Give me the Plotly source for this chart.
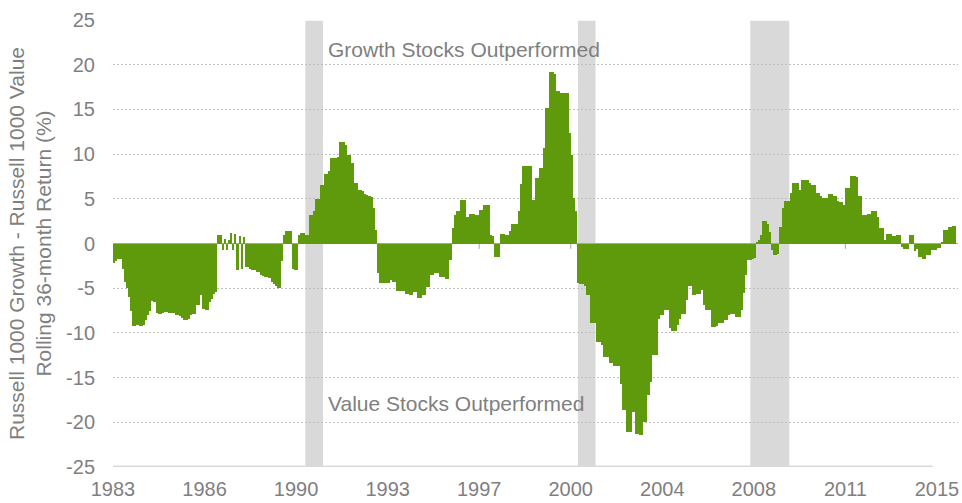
import plotly.graph_objects as go

# ---------------- data ----------------
start_month = "1983-01"

# Russell 1000 Growth - Russell 1000 Value, rolling 36-month return (%), monthly from Jan 1983
diff_1983_1986 = [
    -2.2, -2.0, -1.7, -1.7, -2.9, -4.3, -5.0, -6.0, -7.6, -9.2, -9.2, -9.1,
    -9.2, -9.2, -9.1, -8.6, -8.0, -7.6, -6.4, -6.5, -7.8, -7.9, -7.9, -7.8,
    -7.7, -7.7, -7.8, -7.8, -7.8, -8.0, -8.0, -8.1, -8.3, -8.6, -8.6, -8.4,
    -8.0, -7.9, -7.9, -6.9, -6.9, -5.8, -7.3, -7.4, -7.4, -6.5, -6.2, -5.6,
]
diff_1987_1990 = [
    -5.4, 1.0, 0.9, -0.7, 0.5, -0.7, 0.4, 1.2, -0.7, 1.1, -3.0, 0.8,
    -2.9, 0.7, -2.6, -2.6, -2.9, -3.0, -3.0, -3.2, -3.2, -3.5, -3.6, -3.7,
    -3.8, -3.9, -4.3, -4.5, -4.7, -5.0, -5.0, -2.0, 0.9, 1.4, 1.45, 1.4,
    -2.9, -3.0, -3.0, 1.0, 1.2, 1.2, 1.0, 1.0, 3.2, 3.2, 3.6, 5.0,
]
diff_1991_1994 = [
    5.0, 6.6, 6.6, 7.8, 7.8, 8.1, 9.6, 9.6, 9.6, 9.7, 11.4, 11.4,
    11.3, 11.0, 9.9, 9.9, 9.0, 6.8, 6.8, 6.0, 6.0, 5.9, 5.5, 5.4,
    5.3, 5.2, 4.0, 1.5, -3.3, -4.4, -4.4, -4.4, -4.4, -4.4, -4.1, -4.3,
    -4.3, -5.3, -5.3, -5.3, -5.3, -5.6, -5.6, -5.8, -5.8, -5.4, -5.4, -6.1,
]
diff_1995_1998 = [
    -6.1, -5.8, -5.8, -4.9, -4.9, -3.5, -3.5, -3.3, -3.3, -3.8, -3.8, -3.8,
    -4.0, -4.0, -1.8, 1.7, 3.2, 3.6, 3.6, 4.9, 4.9, 4.9, 3.0, 3.3,
    3.3, 3.3, 3.2, 3.2, 3.8, 3.8, 4.3, 4.3, 4.3, 0.9, 0.8, -1.5,
    -1.5, -1.5, 1.1, 1.1, 1.0, 1.0, 1.4, 2.2, 2.2, 2.2, 3.6, 6.7,
]
diff_1999_2002 = [
    8.7, 8.7, 8.7, 8.7, 8.7, 4.9, 7.3, 7.3, 8.4, 8.4, 10.7, 15.2,
    15.2, 19.2, 19.2, 19.0, 17.1, 17.1, 16.8, 16.8, 16.8, 16.8, 12.4, 9.9,
    5.1, 3.6, -4.4, -4.5, -4.5, -4.8, -5.8, -5.8, -8.9, -8.9, -8.9, -11.0,
    -11.0, -11.4, -12.7, -12.7, -12.7, -13.35, -13.35, -13.7, -13.7, -13.7, -15.7, -18.65,
]
diff_2003_2006 = [
    -18.65, -21.1, -21.1, -21.1, -18.8, -21.3, -21.3, -21.4, -21.4, -20.0, -20.0, -17.0,
    -15.5, -12.5, -12.5, -12.5, -8.4, -8.0, -8.0, -7.4, -7.4, -9.5, -9.75, -9.75,
    -9.75, -9.1, -8.4, -7.9, -7.9, -6.3, -4.8, -4.8, -5.8, -5.8, -5.6, -5.6,
    -5.2, -6.9, -7.4, -7.4, -7.4, -9.3, -9.3, -9.2, -8.9, -8.9, -8.9, -8.6,
]
diff_2007_2010 = [
    -8.6, -8.0, -7.9, -7.9, -8.2, -8.2, -8.2, -7.4, -5.5, -3.5, -1.8, -1.8,
    -1.7, -1.6, 0.2, 0.4, 1.0, 2.5, 2.5, 2.2, 1.3, -0.7, -1.3, -1.3,
    -1.2, 1.9, 4.0, 4.7, 4.7, 4.7, 5.6, 6.8, 6.8, 6.8, 6.0, 7.05,
    7.05, 7.05, 7.05, 6.75, 6.5, 6.5, 5.7, 5.7, 5.3, 5.1, 5.1, 5.1,
]
diff_2011_2015 = [
    5.55, 5.55, 5.3, 5.3, 4.7, 4.6, 4.6, 4.3, 6.2, 6.2, 7.5, 7.5,
    7.5, 7.45, 5.3, 5.3, 3.2, 3.2, 3.3, 3.3, 3.6, 3.6, 3.6, 3.0,
    1.7, 1.7, 0.4, 1.1, 1.1, 1.1, 0.85, 0.85, 1.0, 1.0, -0.4, -0.65,
    -0.65, -0.65, 0.95, 0.95, -0.8, -0.65, -1.5, -1.5, -1.7, -1.7, -1.3, -1.3,
    -0.7, -0.7, -0.7, -0.5, -0.5, 0.2, 1.5, 1.5, 1.9, 1.9, 2.0, 2.0,
]

# NBER recessions (start month, end month)
recession_starts = ["1990-07", "2001-03", "2007-12"]
recession_ends = ["1991-03", "2001-11", "2009-06"]

# x-axis labels (every 43 months)
tick_dates = ["1983-01", "1986-08", "1990-03", "1993-10", "1997-05",
              "2000-12", "2004-07", "2008-02", "2011-09", "2015-04"]
tick_labels = ["1983", "1986", "1990", "1993", "1997",
               "2000", "2004", "2008", "2011", "2015"]

recession_base_end = "2015-01"

y_ticks = [-25, -20, -15, -10, -5, 0, 5, 10, 15, 20, 25]
y_tick_labels = ["-25", "-20", "-15", "-10", "-5", "0", "5", "10", "15", "20", "25"]

annotation_top = "Growth Stocks Outperformed"
annotation_bottom = "Value Stocks Outperformed"
y_title = "Russell 1000 Growth - Russell 1000 Value<br>Rolling 36-month Return (%)"

# ---------------- build ----------------
values = (diff_1983_1986 + diff_1987_1990 + diff_1991_1994 + diff_1995_1998
          + diff_1999_2002 + diff_2003_2006 + diff_2007_2010 + diff_2011_2015)


def month_index(s):
    y0, m0 = map(int, start_month.split("-"))
    y, m = map(int, s.split("-"))
    return (y - y0) * 12 + (m - m0)


x = list(range(len(values)))
tickvals = [month_index(d) - 0.5 for d in tick_dates]

GREEN = "#5E9A0C"
BAND = "#D9D9D9"
TEXT = "#7F7F7F"
GRID = "#BFBFBF"
AXIS = "#A6A6A6"
FONT = "Liberation Sans, Arial, sans-serif"

fig = go.Figure()
fig.add_trace(go.Bar(
    x=x, y=values, width=1.0,
    marker=dict(color=GREEN, line=dict(width=0)),
    hoverinfo="skip",
))

shapes = []
# thin gray base band at the bottom
shapes.append(dict(type="line", xref="x", yref="y",
                   x0=-0.5, x1=month_index(recession_base_end) + 0.5,
                   y0=-25, y1=-25,
                   line=dict(color=BAND, width=3), layer="between"))
# recession bands
for s, e in zip(recession_starts, recession_ends):
    shapes.append(dict(type="rect", xref="x", yref="paper",
                       x0=month_index(s) - 0.5, x1=month_index(e) + 0.5,
                       y0=0, y1=1, fillcolor=BAND,
                       line=dict(color="white", width=1.5), layer="between"))
# small tick marks hanging from the zero line
for tv in tickvals:
    shapes.append(dict(type="line", xref="x", yref="y",
                       x0=tv, x1=tv, y0=0, y1=-0.6,
                       line=dict(color=AXIS, width=1), layer="between"))

fig.update_layout(
    width=962, height=503,
    margin=dict(l=113, r=4, t=20, b=36, autoexpand=False),
    paper_bgcolor="white", plot_bgcolor="white",
    bargap=0, showlegend=False,
    font=dict(family=FONT, color=TEXT, size=20),
    shapes=shapes,
    annotations=[
        dict(text=annotation_top, xref="paper", yref="paper",
             x=0.252, y=0.935, xanchor="left", yanchor="middle",
             showarrow=False, font=dict(size=21, color=TEXT)),
        dict(text=annotation_bottom, xref="paper", yref="paper",
             x=0.252, y=0.143, xanchor="left", yanchor="middle",
             showarrow=False, font=dict(size=21, color=TEXT)),
    ],
)

fig.update_xaxes(
    range=[-0.5, 396.4], tickmode="array", tickvals=tickvals, ticktext=tick_labels,
    showgrid=False, zeroline=False, showline=False, ticks="",
    tickfont=dict(size=20, color=TEXT), ticklabelstandoff=8,
)
fig.update_yaxes(
    range=[-25, 25], tickmode="array", tickvals=y_ticks, ticktext=y_tick_labels,
    showgrid=True, gridcolor=GRID, griddash="2px,2px", gridwidth=1,
    zeroline=True, zerolinecolor=AXIS, zerolinewidth=1,
    showline=False, ticks="",
    tickfont=dict(size=20, color=TEXT), ticklabelstandoff=17,
    title=dict(text=y_title, font=dict(size=21, color=TEXT), standoff=8),
)

fig.write_html(
    "out.html",
    config={"displayModeBar": False},
    post_script="document.body.style.margin='0';document.body.style.overflow='hidden';",
)
